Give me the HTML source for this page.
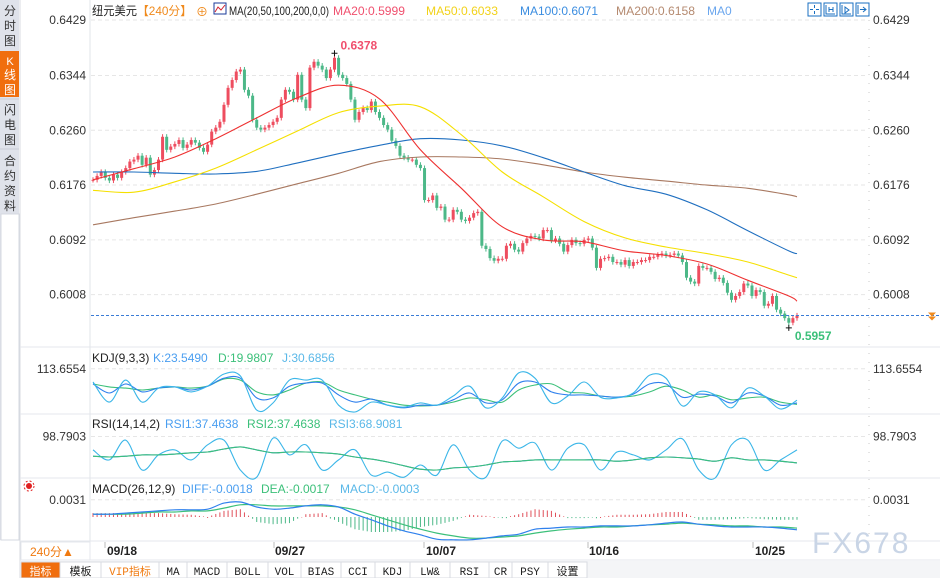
<!DOCTYPE html>
<html><head><meta charset="utf-8">
<style>
html,body{margin:0;padding:0;background:#fff;}
body{width:940px;height:578px;overflow:hidden;position:relative;font-family:"Liberation Sans","Noto Sans CJK SC",sans-serif;}
svg{position:absolute;left:0;top:0;}
text{font-family:"Liberation Sans","Noto Sans CJK SC",sans-serif;}
.mono{font-family:"Liberation Mono","Noto Sans CJK SC",monospace;}
</style></head>
<body>
<svg id="chart" width="940" height="578" viewBox="0 0 940 578">
  <g>
    <rect x="0" y="0" width="19" height="540" fill="#dfe2ea"/>
    <rect x="1" y="214" width="18" height="326" fill="#fff" stroke="#d5d8e0"/>
    <g><text x="10" y="15" font-size="12" fill="#333" text-anchor="middle">分</text><text x="10" y="30" font-size="12" fill="#333" text-anchor="middle">时</text><text x="10" y="45" font-size="12" fill="#333" text-anchor="middle">图</text></g>
    <g><rect x="0" y="51" width="19" height="46" fill="#f06e0e"/><text x="10" y="65" font-size="11" fill="#fff" text-anchor="middle">K</text><text x="10" y="79" font-size="12" fill="#fff" text-anchor="middle">线</text><text x="10" y="94" font-size="12" fill="#fff" text-anchor="middle">图</text></g>
    <line x1="0" y1="99" x2="19" y2="99" stroke="#c8ccd6"/>
    <g><text x="10" y="114" font-size="12" fill="#333" text-anchor="middle">闪</text><text x="10" y="129" font-size="12" fill="#333" text-anchor="middle">电</text><text x="10" y="144" font-size="12" fill="#333" text-anchor="middle">图</text></g>
    <line x1="0" y1="149" x2="19" y2="149" stroke="#c8ccd6"/>
    <g><text x="10" y="165" font-size="12" fill="#333" text-anchor="middle">合</text><text x="10" y="180" font-size="12" fill="#333" text-anchor="middle">约</text><text x="10" y="195" font-size="12" fill="#333" text-anchor="middle">资</text><text x="10" y="210" font-size="12" fill="#333" text-anchor="middle">料</text></g>
  </g>
  <line x1="20" y1="0" x2="20" y2="578" stroke="#d8dbe2"/>
  <line x1="90" y1="0" x2="90" y2="541" stroke="#e2e5ea"/>
  <line x1="869" y1="20" x2="869" y2="541" stroke="#c8c8c8" stroke-dasharray="1,8"/>
  <line x1="20" y1="347" x2="940" y2="347" stroke="#e4e7ec"/>
  <line x1="20" y1="414" x2="940" y2="414" stroke="#e4e7ec"/>
  <line x1="20" y1="478" x2="940" y2="478" stroke="#e4e7ec"/>
  <line x1="20" y1="541" x2="940" y2="541" stroke="#e4e7ec"/>
  <line x1="20" y1="560" x2="940" y2="560" stroke="#e4e7ec"/>
  <g id="grid"></g>
  <g id="axisLabels"></g>

  <g font-size="12">
    <text x="92" y="15" fill="#222" textLength="45" lengthAdjust="spacingAndGlyphs">纽元美元</text>
    <text x="137" y="15" fill="#f08a1c" textLength="55" lengthAdjust="spacingAndGlyphs">【240分】</text>
    <text x="196" y="16" fill="#f08a1c" font-size="12">⊕</text>
    <g><rect x="214" y="3" width="12" height="11" fill="#fff" stroke="#1a3a9a"/><polyline points="215,12 218,7 221,10 225,5" fill="none" stroke="#d02030"/></g>
    <text x="229" y="15" fill="#222" textLength="100" lengthAdjust="spacingAndGlyphs">MA(20,50,100,200,0,0)</text>
    <text x="333" y="15" fill="#f0506e" textLength="72" lengthAdjust="spacingAndGlyphs">MA20:0.5999</text>
    <text x="426" y="15" fill="#f2d21a" textLength="72" lengthAdjust="spacingAndGlyphs">MA50:0.6033</text>
    <text x="520" y="15" fill="#3b8de0" textLength="78" lengthAdjust="spacingAndGlyphs">MA100:0.6071</text>
    <text x="616" y="15" fill="#b58a70" textLength="79" lengthAdjust="spacingAndGlyphs">MA200:0.6158</text>
    <text x="707" y="15" fill="#6aa6ee">MA0</text>
  </g>
  <g stroke="#1a6fc0" fill="none">
    <g><rect x="808" y="3" width="13" height="13"/><path d="M814.5 5v3M814.5 11v3M810 9.5h3M816 9.5h3"/></g>
    <g><rect x="824" y="3" width="13" height="13"/><path d="M826 5v9h9M829 7v5M833 7v5M829 9.5h4"/></g>
    <g><rect x="840" y="3" width="13" height="13"/><path d="M842 5v9h9M845 7l4 3-4 3z"/></g>
    <g><rect x="856" y="3" width="13" height="13"/><path d="M858 5v9M860 9.5h6M863 7l3 2.5-3 2.5"/></g>
  </g>

  <g id="mainPlot"></g>

  <g font-size="12">
    <text x="92" y="362" fill="#222">KDJ(9,3,3)</text>
    <text x="153" y="362" fill="#4a9ef0">K:23.5490</text>
    <text x="218" y="362" fill="#3cc07a">D:19.9807</text>
    <text x="282" y="362" fill="#5ab8e8">J:30.6856</text>
  </g>
  <g font-size="12">
    <text x="92" y="428" fill="#222">RSI(14,14,2)</text>
    <text x="165" y="428" fill="#4a9ef0">RSI1:37.4638</text>
    <text x="247" y="428" fill="#3cc07a">RSI2:37.4638</text>
    <text x="329" y="428" fill="#5ab8e8">RSI3:68.9081</text>
  </g>
  <g font-size="12">
    <text x="92" y="493" fill="#222">MACD(26,12,9)</text>
    <text x="182" y="493" fill="#4a9ef0">DIFF:-0.0018</text>
    <text x="261" y="493" fill="#3cc07a">DEA:-0.0017</text>
    <text x="340" y="493" fill="#5ab8e8">MACD:-0.0003</text>
  </g>
  <g>
    <circle cx="29" cy="486" r="3" fill="#e02020"/>
    <circle cx="29" cy="486" r="5" fill="none" stroke="#e02020" stroke-dasharray="2,2"/>
  </g>
  <g id="kdjPlot"></g>
  <g id="rsiPlot"></g>
  <g id="macdPlot"></g>

  <g font-size="12" font-weight="bold" fill="#222">
    <line x1="105" y1="542" x2="105" y2="548" stroke="#bbb"/><text x="107" y="555">09/18</text>
    <line x1="274" y1="542" x2="274" y2="548" stroke="#bbb"/><text x="275" y="555">09/27</text>
    <line x1="424" y1="542" x2="424" y2="548" stroke="#bbb"/><text x="426" y="555">10/07</text>
    <line x1="588" y1="542" x2="588" y2="548" stroke="#bbb"/><text x="589" y="555">10/16</text>
    <line x1="753" y1="542" x2="753" y2="548" stroke="#bbb"/><text x="755" y="555">10/25</text>
  </g>
  <g>
    <rect x="21" y="542" width="69" height="18" fill="#fff" stroke="#e4e7ec"/>
    <text x="30" y="556" font-size="12" fill="#f07a10">240分▲</text>
  </g>
  <text x="812" y="553" font-size="30" fill="#c9d5e6" letter-spacing="2">FX678</text>

  <g id="tabs" font-size="11"></g>
</svg>
<script>
// ===== chart data =====
const closes = [
.6184,.6190,.6196,.6187,.6183,.6192,.6187,.6196,.6202,.6212,.6215,.6221,.6207,.6218,.6192,.6199,.6215,.6250,.6230,.6235,.6239,.6245,.6233,.6238,.6245,.6241,.6233,.6227,.6238,
.6258,.6264,.6273,.6299,.6325,.6337,.6350,.6353,.6322,.6313,.6276,.6264,.6261,.6264,.6268,.6273,.6279,.6307,.6322,.6319,
.6307,.6345,.6307,.6294,.6356,.6365,.6359,.6353,.6340,.6353,.6371,.6345,.6340,
.6331,.6307,.6276,.6288,.6294,.6291,.6304,.6288,.6279,.6268,.6261,.6244,.6236,.6221,.6218,.6215,.6215,.6207,.6202,.6153,.6153,.6160,
.6141,.6143,.6123,.6123,.6138,.6135,.6123,.6121,.6126,.6133,.6135,.6083,.6078,.6064,.6060,.6063,
.6063,.6083,.6086,.6077,.6074,.6087,.6094,.6098,.6097,.6094,.6107,.6107,.6091,.6094,.6086,.6074,.6084,.6092,.6087,.6086,.6092,.6094,.6080,
.6049,.6063,.6064,.6066,.6058,.6058,.6054,.6061,.6052,.6058,.6058,.6061,.6061,.6066,.6066,.6069,.6071,.6068,.6069,.6071,.6068,
.6058,.6034,.6028,.6025,.6052,.6049,.6049,.6043,.6032,.6034,.6026,.6011,.6000,.6006,.6012,.6025,.6022,.6006,.6015,.6012,.5991,.5994,.6006,.5985,.5979,.5972,.5965,.5972,.5976];
const peakHigh = 0.6378;
const troughLow = 0.5957;
const priceTicks = ["0.6429","0.6344","0.6260","0.6176","0.6092","0.6008"];
const maIdx = [0,10,20,30,40,50,60,70,80,90,100,110,120,130,140,150,160,170,172];
const ma20  = [.6184,.6201,.6219,.6247,.6279,.6310,.6329,.6308,.6230,.6171,.6112,.6092,.6089,.6075,.6068,.6055,.6030,.6006,.5998];
const ma50  = [.6168,.6165,.6181,.6202,.6230,.6259,.6287,.6297,.6296,.6253,.6196,.6158,.6120,.6095,.6081,.6071,.6058,.6038,.6034];
const ma100 = [.6196,.6196,.6194,.6193,.6197,.6210,.6224,.6237,.6247,.6245,.6236,.6218,.6196,.6175,.6162,.6138,.6106,.6075,.6071];
const ma200 = [.6115,.6126,.6136,.6147,.6162,.6178,.6194,.6212,.6219,.6219,.6216,.6207,.6196,.6188,.6182,.6176,.6171,.6161,.6158];
const kVals = [74,50,74,53,63,66,58,68,89,89,37,37,68,76,76,45,26,34,18,11,18,18,32,50,24,32,76,79,53,45,45,42,39,47,74,74,39,47,42,24,50,42,18,24];
const dVals = [74,66,63,58,63,66,63,68,87,84,53,45,58,76,79,58,45,34,26,18,16,18,26,37,32,26,58,71,74,53,50,42,39,42,53,68,58,39,45,32,37,39,26,20];
const jVals = [79,26,84,26,63,66,53,68,100,95,5,24,84,84,84,18,0,26,18,13,24,18,42,68,11,37,103,89,24,42,79,39,37,50,97,89,16,53,45,11,63,42,8,31];
const kdjTicks = ["113.6554"];
const rsi2Vals = [52,50,52,55,55,57,60,62,69,74,67,60,62,62,60,57,50,45,38,29,21,19,24,26,31,38,40,43,43,43,43,43,40,43,48,50,48,45,40,48,43,43,40,36];
const rsi3Vals = [67,43,90,19,55,67,43,79,90,19,2,95,55,79,19,43,67,7,14,2,31,7,79,19,2,88,71,83,19,71,79,19,62,55,43,67,93,19,0,79,90,19,43,67];
const rsiTicks = ["98.7903"];
const diffVals = [.0005,.0005,.0007,.0009,.0011,.0013,.0013,.0014,.0025,.0027,.0018,.0014,.0016,.0020,.0022,.0018,.0005,-.0005,-.0016,-.0025,-.0032,-.0040,-.0041,-.0041,-.0038,-.0034,-.0031,-.0022,-.0020,-.0018,-.0018,-.0016,-.0016,-.0016,-.0014,-.0011,-.0009,-.0013,-.0016,-.0018,-.0018,-.0018,-.0020,-.0023];
const deaVals  = [.0005,.0005,.0005,.0007,.0009,.0009,.0011,.0011,.0016,.0022,.0022,.0020,.0020,.0020,.0020,.0018,.0013,.0004,-.0005,-.0014,-.0022,-.0029,-.0034,-.0038,-.0038,-.0036,-.0034,-.0029,-.0025,-.0022,-.0020,-.0018,-.0018,-.0016,-.0014,-.0013,-.0011,-.0013,-.0014,-.0016,-.0016,-.0018,-.0018,-.0020];
const histVals = [.0007,.0007,.0007,.0007,.0007,.0005,.0004,0,.0011,.0014,-.0009,-.0013,-.0011,.0005,.0007,-.0009,-.0022,-.0027,-.0027,-.0025,-.0018,-.0014,-.0007,.0004,.0002,-.0002,.0005,.0014,.0011,-.0002,-.0002,0,.0004,.0004,.0005,.0009,.0009,-.0005,-.0005,-.0004,-.0002,-.0004,-.0005,-.0005];
const macdTicks = ["0.0031"];

// ===== axis functions =====
const NS = "http://www.w3.org/2000/svg";
const X0 = 93, X1 = 797;
const N = closes.length;
const xAt = i => X0 + i * (X1 - X0) / (N - 1);
const yP = v => 20 + (0.6429 - v) / 0.0084 * 54.8;
const yK = v => 412 - v * 0.38;
const yR = v => 478 - v * 0.42;
const yM = v => 517 - v / 0.00018;
function mk(tag, attrs, parent){ const e = document.createElementNS(NS, tag); for (const k in attrs) e.setAttribute(k, attrs[k]); parent.appendChild(e); return e; }
function smoothPath(idxArr, vals, fy){
  const p = vals.map((v,k)=>[xAt(idxArr[k]), fy(v)]);
  let d = `M${p[0][0].toFixed(1)} ${p[0][1].toFixed(1)}`;
  for (let k=0;k<p.length-1;k++){
    const p0=p[Math.max(0,k-1)], p1=p[k], p2=p[k+1], p3=p[Math.min(p.length-1,k+2)];
    const c1=[p1[0]+(p2[0]-p0[0])/6, p1[1]+(p2[1]-p0[1])/6];
    const c2=[p2[0]-(p3[0]-p1[0])/6, p2[1]-(p3[1]-p1[1])/6];
    d += ` C${c1[0].toFixed(1)} ${c1[1].toFixed(1)} ${c2[0].toFixed(1)} ${c2[1].toFixed(1)} ${p2[0].toFixed(1)} ${p2[1].toFixed(1)}`;
  }
  return d;
}

const grid = document.getElementById('grid');
const axisLabels = document.getElementById('axisLabels');
function addTick(t, y, nm){
  const gl = mk('line', {x1:91, x2:868, y1:y, y2:y, stroke:'#e6e6e6', 'stroke-dasharray':'4,3'}, grid);
  
  
  const l = mk('text', {x:86, y:y+4, 'font-size':12, fill:'#333', 'text-anchor':'end'}, axisLabels);
  l.textContent = t;
  
  
  const r = mk('text', {x:873, y:y+4, 'font-size':12, fill:'#333'}, axisLabels);
  r.textContent = t;
  
  
}
priceTicks.forEach(t => addTick(t, yP(parseFloat(t)), 'price'));
kdjTicks.forEach(t => addTick(t, yK(parseFloat(t)), 'kdj'));
rsiTicks.forEach(t => addTick(t, yR(parseFloat(t)), 'rsi'));
macdTicks.forEach(t => addTick(t, yM(parseFloat(t)), 'macd'));

// ===== candles =====
const main = document.getElementById('mainPlot');
const WICK = 0.0004;
let maxI = 0, minI = 0;
closes.forEach((c, i) => {
  const o = i ? closes[i-1] : c;
  if (c > closes[maxI]) maxI = i;
  if (c < closes[minI]) minI = i;
  const up = c >= o;
  const col = up ? '#ee4d5f' : '#4cb888';
  const x = xAt(i);
  const g = mk('g', {}, main);
  
  
  mk('line', {x1:x, x2:x, y1:yP(Math.max(o,c)+WICK), y2:yP(Math.min(o,c)-WICK), stroke:col, 'stroke-width':1}, g);
  const top = yP(Math.max(o,c)), bot = yP(Math.min(o,c));
  mk('rect', {x:x-1.5, y:top, width:3, height:Math.max(1, bot-top), fill:col}, g);
});
[[ma200,'#a87860','ma200-line'],[ma100,'#1f6fc0','ma100-line'],[ma50,'#f5e000','ma50-line'],[ma20,'#ee3030','ma20-line']].forEach(([vals,col,name])=>{
  const p = mk('path', {d:smoothPath(maIdx, vals, yP), fill:'none', stroke:col, 'stroke-width':1.1}, main);
  
  
});
const lastY = yP(closes[N-1]);
const lp = mk('line', {x1:91, x2:940, y1:lastY, y2:lastY, stroke:'#3a7bd5', 'stroke-dasharray':'3,2'}, main);


const arr = mk('path', {d:`M928 ${lastY-3} h8 l-4 4 z M928 ${lastY+1} h8 l-4 4 z`, fill:'#f08a1c'}, main);


const hx = xAt(maxI), hy = yP(peakHigh);
const hm = mk('path', {d:`M${hx-3} ${hy} h6 M${hx} ${hy-3} v6`, stroke:'#111', 'stroke-width':1}, main);


const ht = mk('text', {x:hx+6, y:hy-4, 'font-size':12, 'font-weight':'bold', fill:'#f0506e'}, main);
ht.textContent = peakHigh.toFixed(4);


const lx = xAt(minI), ly = yP(troughLow);
const lm = mk('path', {d:`M${lx-3} ${ly} h6 M${lx} ${ly-3} v6`, stroke:'#111', 'stroke-width':1}, main);


const lt = mk('text', {x:lx+6, y:ly+12, 'font-size':12, 'font-weight':'bold', fill:'#3cc07a'}, main);
lt.textContent = troughLow.toFixed(4);



// ===== indicators =====
const sIdx = kVals.map((_, k) => Math.min(k * 4, N - 1));
const kdj = document.getElementById('kdjPlot');
[[dVals,'#3cc07a','kdj-d-line'],[kVals,'#2f80ed','kdj-k-line'],[jVals,'#3bb6e8','kdj-j-line']].forEach(([vals,col,name])=>{
  const p = mk('path', {d:smoothPath(sIdx, vals, yK), fill:'none', stroke:col, 'stroke-width':1.1}, kdj);
  
  
});
const rsi = document.getElementById('rsiPlot');
[[rsi3Vals,'#3bb6e8','rsi3-line'],[rsi2Vals,'#2f80ed','rsi1-line'],[rsi2Vals,'#3cc07a','rsi2-line']].forEach(([vals,col,name])=>{
  const p = mk('path', {d:smoothPath(sIdx, vals, yR), fill:'none', stroke:col, 'stroke-width':1.1}, rsi);
  
  
});
const macd = document.getElementById('macdPlot');
for (let i = 0; i < N; i++) {
  const k = Math.min(Math.floor(i / 4), histVals.length - 2);
  const f = Math.min(1, (i - sIdx[k]) / Math.max(1, sIdx[k+1] - sIdx[k]));
  const v = histVals[k] * (1 - f) + histVals[k+1] * f;
  const x = xAt(i);
  const b = mk('line', {x1:x, x2:x, y1:yM(0), y2:yM(v) + (Math.abs(v) < 0.0001 ? 1 : 0), stroke: v >= 0 ? '#e0505a' : '#4cb888', 'stroke-width':1}, macd);
  
  
}
[[deaVals,'#3cc07a','dea-line'],[diffVals,'#2f80ed','diff-line']].forEach(([vals,col,name])=>{
  const p = mk('path', {d:smoothPath(sIdx, vals, yM), fill:'none', stroke:col, 'stroke-width':1.2}, macd);
  
  
});

// ===== bottom tabs =====
const tabsG = document.getElementById('tabs');
const tabDefs = [["指标",21,60],["模板",60,101],["VIP指标",101,159],["MA",159,187],["MACD",187,227],["BOLL",227,268],["VOL",268,301],["BIAS",301,341],["CCI",341,375],["KDJ",375,410],["LW&",410,450],["RSI",450,489],["CR",489,512],["PSY",512,548],["设置",548,587]];
mk('rect', {x:20, y:561, width:920, height:17, fill:'#f4f5f7'}, tabsG);
tabDefs.forEach(([label,a,b], k) => {
  const g = mk('g', {}, tabsG);
  
  
  mk('rect', {x:a, y:562, width:b-a, height:16, fill: k===0 ? '#f06e0e' : '#fff', stroke:'#d8dbe2'}, g);
  const t = mk('text', {x:(a+b)/2, y:575, 'text-anchor':'middle', 'font-size':11, fill: k===0 ? '#fff' : (k===2 ? '#f07a10' : '#222'), class:'mono'}, g);
  t.textContent = label;
});
</script>
</body></html>
